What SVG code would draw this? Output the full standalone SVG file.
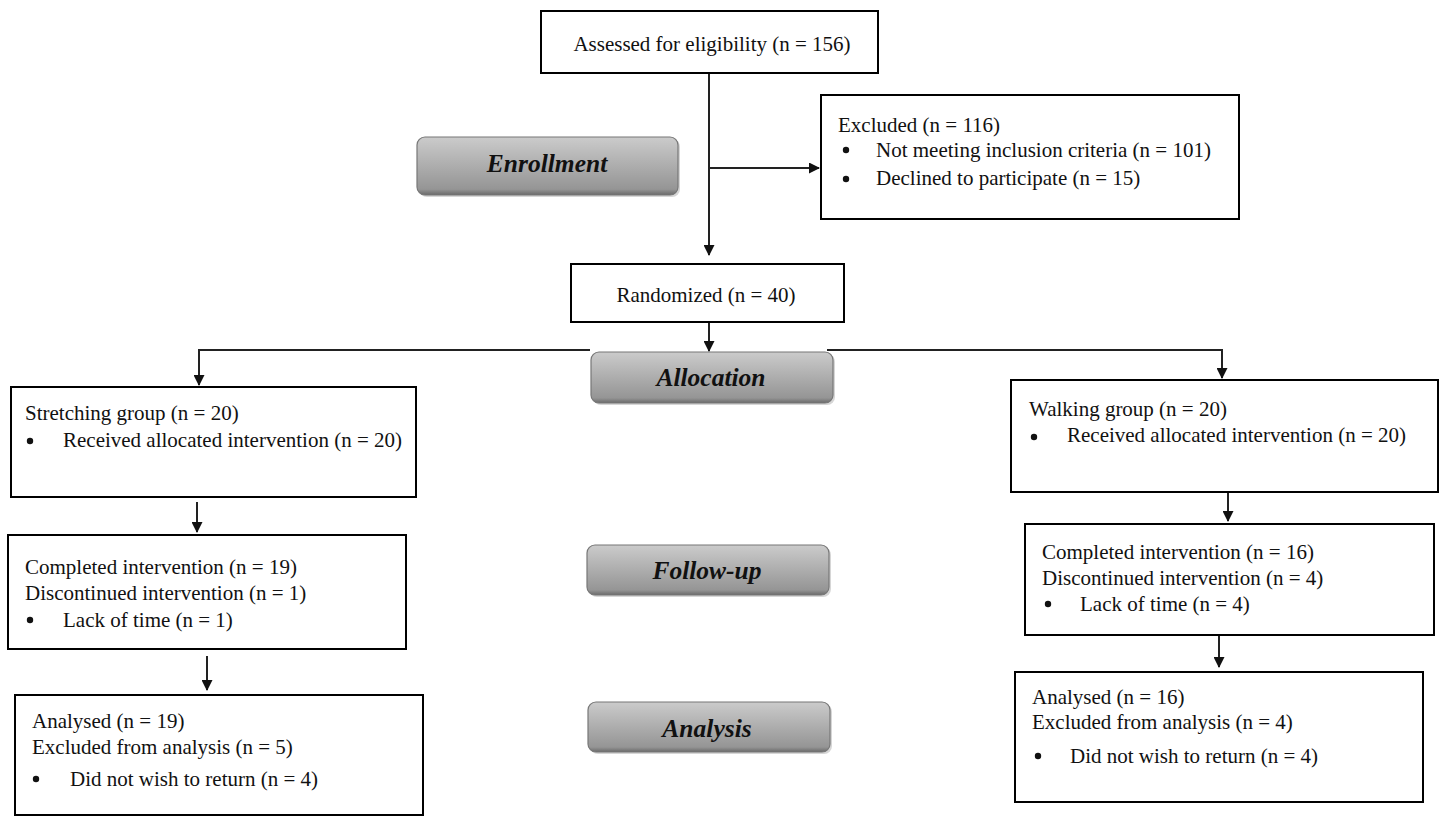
<svg xmlns="http://www.w3.org/2000/svg" width="1442" height="817" viewBox="0 0 1442 817">
<style>
.box{fill:#fff;stroke:#000;stroke-width:2}
.t{font-family:"Liberation Serif","Times New Roman",serif;font-size:21px;fill:#111}
.lab{font-family:"Liberation Serif","Times New Roman",serif;font-size:25.5px;font-weight:bold;font-style:italic;fill:#111;text-anchor:middle}
.stage{fill:url(#g);stroke:#777;stroke-width:1.2}
.conn{fill:none;stroke:#222;stroke-width:2}
.dot{fill:#111}
</style>
<defs>
<linearGradient id="g" x1="0" y1="0" x2="0" y2="1">
<stop offset="0" stop-color="#cbcbcb"/>
<stop offset="0.5" stop-color="#adadad"/>
<stop offset="0.9" stop-color="#959595"/>
<stop offset="1" stop-color="#6a6a6a"/>
</linearGradient>
<marker id="ah" markerWidth="11" markerHeight="11" refX="10" refY="5.5" orient="auto" markerUnits="userSpaceOnUse">
<path d="M0,0 L11,5.5 L0,11 z" fill="#111"/>
</marker>
</defs>

<g id="stage-enrollment">
<rect x="419" y="139" width="261" height="58" rx="8" fill="#d6d6d6"/>
<rect class="stage" x="417" y="137" width="261" height="58" rx="8"/>
<text class="lab" x="547" y="172">Enrollment</text>
</g>
<g id="stage-allocation">
<rect x="593" y="354" width="242" height="51" rx="8" fill="#d6d6d6"/>
<rect class="stage" x="591" y="352" width="242" height="51" rx="8"/>
<text class="lab" x="711" y="386">Allocation</text>
</g>
<g id="stage-followup">
<rect x="589" y="547" width="242" height="50" rx="8" fill="#d6d6d6"/>
<rect class="stage" x="587" y="545" width="242" height="50" rx="8"/>
<text class="lab" x="707" y="579">Follow-up</text>
</g>
<g id="stage-analysis">
<rect x="590" y="704" width="242" height="50" rx="8" fill="#d6d6d6"/>
<rect class="stage" x="588" y="702" width="242" height="50" rx="8"/>
<text class="lab" x="707" y="737">Analysis</text>
</g>

<g id="connectors">
<path class="conn" d="M709,73 V255" marker-end="url(#ah)"/>
<path class="conn" d="M709,168 H819" marker-end="url(#ah)"/>
<path class="conn" d="M709,322 V351" marker-end="url(#ah)"/>
<path class="conn" d="M590,350 H199 V385" marker-end="url(#ah)"/>
<path class="conn" d="M827,350 H1222 V378" marker-end="url(#ah)"/>
<path class="conn" d="M197,502 V532" marker-end="url(#ah)"/>
<path class="conn" d="M207,656 V690" marker-end="url(#ah)"/>
<path class="conn" d="M1228,492 V521" marker-end="url(#ah)"/>
<path class="conn" d="M1219,636 V667" marker-end="url(#ah)"/>
</g>

<g id="assessed">
<rect class="box" x="541" y="11" width="337" height="62"/>
<text class="t" x="712" y="51" text-anchor="middle">Assessed for eligibility (n = 156)</text>
</g>

<g id="excluded">
<rect class="box" x="821" y="95" width="418" height="124"/>
<text class="t" x="838" y="132">Excluded (n = 116)</text>
<circle class="dot" cx="846" cy="150" r="3.2"/>
<text class="t" x="876" y="157">Not meeting inclusion criteria (n = 101)</text>
<circle class="dot" cx="846" cy="179" r="3.2"/>
<text class="t" x="876" y="185">Declined to participate (n = 15)</text>
</g>

<g id="randomized">
<rect class="box" x="571" y="264" width="273" height="58"/>
<text class="t" x="706" y="302" text-anchor="middle">Randomized (n = 40)</text>
</g>

<g id="stretching">
<rect class="box" x="11" y="387" width="405" height="110"/>
<text class="t" x="25" y="420">Stretching group (n = 20)</text>
<circle class="dot" cx="30" cy="441" r="3.2"/>
<text class="t" x="63" y="447">Received allocated intervention (n = 20)</text>
</g>

<g id="walking">
<rect class="box" x="1011" y="380" width="427" height="112"/>
<text class="t" x="1029" y="416">Walking group (n = 20)</text>
<circle class="dot" cx="1034" cy="437" r="3.2"/>
<text class="t" x="1067" y="442">Received allocated intervention (n = 20)</text>
</g>

<g id="followup-left">
<rect class="box" x="8" y="535" width="398" height="114"/>
<text class="t" x="25" y="574">Completed intervention (n = 19)</text>
<text class="t" x="25" y="600">Discontinued intervention (n = 1)</text>
<circle class="dot" cx="30" cy="620" r="3.2"/>
<text class="t" x="63" y="627">Lack of time (n = 1)</text>
</g>

<g id="followup-right">
<rect class="box" x="1025" y="524" width="409" height="111"/>
<text class="t" x="1042" y="559">Completed intervention (n = 16)</text>
<text class="t" x="1042" y="585">Discontinued intervention (n = 4)</text>
<circle class="dot" cx="1048" cy="604" r="3.2"/>
<text class="t" x="1080" y="611">Lack of time (n = 4)</text>
</g>

<g id="analysis-left">
<rect class="box" x="15" y="695" width="408" height="120"/>
<text class="t" x="32" y="728">Analysed (n = 19)</text>
<text class="t" x="32" y="754">Excluded from analysis (n = 5)</text>
<circle class="dot" cx="36" cy="779" r="3.2"/>
<text class="t" x="70" y="786">Did not wish to return (n = 4)</text>
</g>

<g id="analysis-right">
<rect class="box" x="1015" y="672" width="408" height="130"/>
<text class="t" x="1032" y="704">Analysed (n = 16)</text>
<text class="t" x="1032" y="729">Excluded from analysis (n = 4)</text>
<circle class="dot" cx="1038" cy="756" r="3.2"/>
<text class="t" x="1070" y="763">Did not wish to return (n = 4)</text>
</g>
</svg>
